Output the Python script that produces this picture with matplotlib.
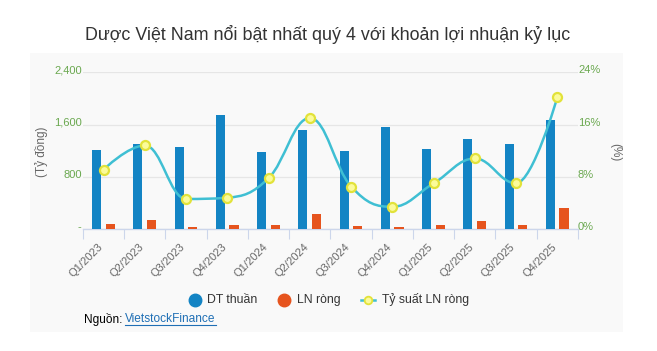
import numpy as np
import matplotlib
matplotlib.use("Agg")
import matplotlib.pyplot as plt
from matplotlib.path import Path
from matplotlib.patches import PathPatch, Rectangle
from matplotlib.lines import Line2D
import matplotlib.transforms as mtransforms

plt.rcParams['font.family'] = ['Liberation Sans', 'DejaVu Sans']

categories = ["Q1/2023", "Q2/2023", "Q3/2023", "Q4/2023", "Q1/2024", "Q2/2024",
              "Q3/2024", "Q4/2024", "Q1/2025", "Q2/2025", "Q3/2025", "Q4/2025"]
dt_thuan = [1215, 1307, 1261, 1753, 1184, 1523, 1200, 1569, 1230, 1384, 1307, 1676]
ln_rong = [80, 143, 30, 60, 60, 230, 46, 30, 60, 128, 60, 323]
ty_suat = [9.1, 12.8, 4.6, 4.8, 7.8, 17.0, 6.5, 3.4, 7.0, 10.8, 7.0, 20.2]
left_ticks = [0, 800, 1600, 2400]
left_tick_labels = ["-", "800", "1,600", "2,400"]
right_ticks = [0, 8, 16, 24]
right_tick_labels = ["0%", "8%", "16%", "24%"]

W, H = 657, 351
fig = plt.figure(figsize=(W / 100, H / 100), dpi=100)
fig.patch.set_facecolor('white')

def fx(px):
    return px / W

def fy(py):
    return 1 - py / H

# gray panel
panel = Rectangle((fx(30), fy(332)), fx(623) - fx(30), fy(53) - fy(332),
                  transform=fig.transFigure, facecolor='#f9f9f9',
                  edgecolor='none', zorder=-10)
fig.patches.append(panel)

ax = fig.add_axes([fx(83), fy(229), fx(578) - fx(83), fy(72.3) - fy(229)])
ax.set_facecolor('none')
ax2 = ax.twinx()
ax2.set_facecolor('none')

x = np.arange(len(categories))
bw = 0.22
ax.bar(x - 0.17, dt_thuan, width=bw, color='#1384c4', zorder=3)
ax.bar(x + 0.16, ln_rong, width=bw, color='#e6541e', zorder=3)

ax.set_xlim(-0.5, len(categories) - 0.5)
ax.set_ylim(0, 2400)
ax2.set_ylim(0, 24)

ax.set_yticks(left_ticks)
ax.set_yticklabels(left_tick_labels)
ax.yaxis.grid(True, color='#e6e6e6', linewidth=0.9, zorder=0)
ax.set_axisbelow(True)
ax2.set_yticks(right_ticks)
ax2.set_yticklabels(right_tick_labels)

for a in (ax, ax2):
    for s in a.spines.values():
        s.set_visible(False)
ax.spines['bottom'].set_visible(True)
ax.spines['bottom'].set_color('#ccd6eb')
ax.spines['bottom'].set_linewidth(1.0)

ax.tick_params(axis='y', length=0, pad=1, labelsize=8, labelcolor='#6aa84f')
ax2.tick_params(axis='y', length=0, pad=0, labelsize=8, labelcolor='#6aa84f')
off = mtransforms.ScaledTranslation(0, 3 / 100, fig.dpi_scale_trans)
for lab in ax.get_yticklabels() + ax2.get_yticklabels():
    lab.set_transform(lab.get_transform() + off)

ax.set_xticks(x)
ax.set_xticklabels(categories, rotation=45, ha='right', rotation_mode='anchor')
ax.tick_params(axis='x', which='major', length=0, pad=9, labelsize=8, labelcolor='#666666')
xoff = mtransforms.ScaledTranslation(-6 / 100, 0, fig.dpi_scale_trans)
for lab in ax.get_xticklabels():
    lab.set_transform(lab.get_transform() + xoff)
ax.set_xticks(np.arange(-0.5, len(categories), 1.0), minor=True)
ax.tick_params(axis='x', which='minor', length=7.2, width=0.8, color='#ccd6eb', direction='out')

# Highcharts-like spline
def spline_path(xs, ys, smoothing=1.5):
    n = len(xs)
    denom = smoothing + 1
    lc = [None] * n
    rc = [None] * n
    for i in range(1, n - 1):
        px, py = xs[i], ys[i]
        lx, ly = xs[i - 1], ys[i - 1]
        nx, ny = xs[i + 1], ys[i + 1]
        lcx = (smoothing * px + lx) / denom
        lcy = (smoothing * py + ly) / denom
        rcx = (smoothing * px + nx) / denom
        rcy = (smoothing * py + ny) / denom
        corr = 0
        if rcx != lcx:
            corr = (rcy - lcy) * (rcx - px) / (rcx - lcx) + py - rcy
        lcy += corr
        rcy += corr
        if lcy > ly and lcy > py:
            lcy = max(ly, py); rcy = 2 * py - lcy
        elif lcy < ly and lcy < py:
            lcy = min(ly, py); rcy = 2 * py - lcy
        if rcy > ny and rcy > py:
            rcy = max(ny, py); lcy = 2 * py - rcy
        elif rcy < ny and rcy < py:
            rcy = min(ny, py); lcy = 2 * py - rcy
        lc[i] = (lcx, lcy)
        rc[i] = (rcx, rcy)
    verts = [(xs[0], ys[0])]
    codes = [Path.MOVETO]
    for i in range(1, n):
        c1 = rc[i - 1] if rc[i - 1] is not None else (xs[i - 1], ys[i - 1])
        c2 = lc[i] if lc[i] is not None else (xs[i], ys[i])
        verts += [c1, c2, (xs[i], ys[i])]
        codes += [Path.CURVE4] * 3
    return Path(verts, codes)

path = spline_path(list(x.astype(float)), ty_suat)
ax2.add_patch(PathPatch(path, facecolor='none', edgecolor='#3fbfd3', linewidth=1.8, zorder=4))
ax2.plot(x, ty_suat, linestyle='none', marker='o', markersize=6.5,
         markerfacecolor='#fbfb9a', markeredgecolor='#e2e23a', markeredgewidth=1.6, zorder=5)

fig.text(fx(41), fy(152), "(Tỷ đồng)", rotation=90, ha='center', va='center',
         fontsize=8.5, color='#666666')
fig.text(fx(615), fy(152), "(%)", rotation=270, ha='center', va='center',
         fontsize=8.5, color='#666666')

fig.text(fx(328), fy(35), "Dược Việt Nam nổi bật nhất quý 4 với khoản lợi nhuận kỷ lục",
         ha='center', va='center', fontsize=12.9, color='#333333')

ly = fy(300)
fig.add_artist(Line2D([fx(195)], [ly], marker='o', markersize=9, color='#1384c4',
                      transform=fig.transFigure, linestyle='none'))
fig.text(fx(207), ly, "DT thuần", ha='left', va='center', fontsize=8.8, color='#333333')
fig.add_artist(Line2D([fx(284)], [ly], marker='o', markersize=9, color='#e6541e',
                      transform=fig.transFigure, linestyle='none'))
fig.text(fx(297), ly, "LN ròng", ha='left', va='center', fontsize=8.8, color='#333333')
fig.add_artist(Line2D([fx(361), fx(375)], [ly, ly], color='#3fbfd3', linewidth=1.8,
                      transform=fig.transFigure))
fig.add_artist(Line2D([fx(368)], [ly], marker='o', markersize=5.5, markerfacecolor='#fbfb9a',
                      markeredgecolor='#e2e23a', markeredgewidth=1.3,
                      transform=fig.transFigure, linestyle='none'))
fig.text(fx(382), ly, "Tỷ suất LN ròng", ha='left', va='center', fontsize=8.8, color='#333333')

fig.text(fx(84), fy(319), "Nguồn: ", ha='left', va='center', fontsize=8.6, color='#000000')
fig.text(fx(125), fy(319), "VietstockFinance", ha='left', va='center', fontsize=8.6,
         color='#1f6fb5')
fig.add_artist(Line2D([fx(125), fx(216)], [fy(325), fy(325)], color='#1f6fb5', linewidth=0.8,
                      transform=fig.transFigure))

fig.savefig("out.png", dpi=100)
